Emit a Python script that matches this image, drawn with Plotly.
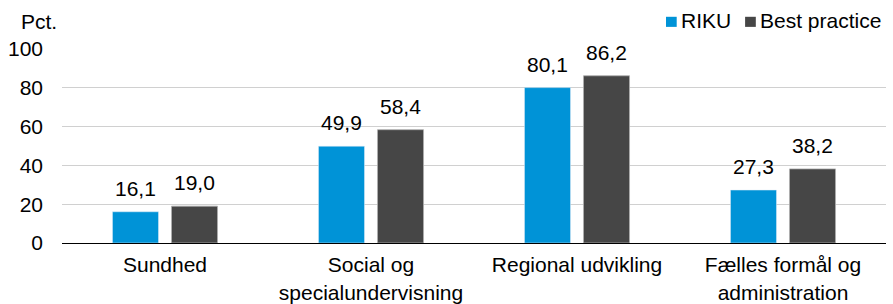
import plotly.graph_objects as go

categories = ["Sundhed", "Social og<br>specialundervisning", "Regional udvikling", "Fælles formål og<br>administration"]
riku = [16.1, 49.9, 80.1, 27.3]
best = [19.0, 58.4, 86.2, 38.2]
series_names = ["RIKU", "Best practice"]
y_ticks = [0, 20, 40, 60, 80, 100]

BLUE = "#0093D7"
GRAY = "#464646"
FONT = "Liberation Sans, Arial, sans-serif"
FS = 21

fig = go.Figure()
fig.add_trace(go.Bar(x=categories, y=riku, name=series_names[0], marker_color=BLUE, showlegend=False))
fig.add_trace(go.Bar(x=categories, y=best, name=series_names[1], marker_color=GRAY,
                     marker_line=dict(color="#B0B0B0", width=0.8), showlegend=False))

# data labels
slot = 29.5
for vals, shift in ((riku, -slot), (best, slot)):
    for c, v in zip(categories, vals):
        fig.add_annotation(x=c, y=v, xref="x", yref="y", text=f"{v:.1f}".replace(".", ","),
                           showarrow=False, yanchor="bottom", xanchor="center",
                           xshift=shift, yshift=10, font=dict(family=FONT, size=FS, color="#000"))

# custom legend
fig.add_shape(type="rect", xref="paper", yref="paper", x0=0.733, x1=0.746, y0=1.114, y1=1.166,
              fillcolor=BLUE, line_width=0)
fig.add_annotation(xref="paper", yref="paper", x=0.749, y=1.147, text=series_names[0], showarrow=False,
                   xanchor="left", yanchor="middle", font=dict(family=FONT, size=FS, color="#000"))
fig.add_shape(type="rect", xref="paper", yref="paper", x0=0.829, x1=0.842, y0=1.114, y1=1.166,
              fillcolor=GRAY, line_width=0)
fig.add_annotation(xref="paper", yref="paper", x=0.845, y=1.147, text=series_names[1], showarrow=False,
                   xanchor="left", yanchor="middle", font=dict(family=FONT, size=FS, color="#000"))

# axis title
fig.add_annotation(xref="paper", yref="paper", x=0, xshift=-43, y=1.14, text="Pct.", showarrow=False,
                   xanchor="left", yanchor="middle", font=dict(family=FONT, size=FS, color="#000"))

fig.update_layout(
    width=893, height=304,
    margin=dict(l=62, r=7, t=49, b=61),
    paper_bgcolor="white", plot_bgcolor="white",
    barmode="group", bargap=0.427, bargroupgap=0.22,
    font=dict(family=FONT, size=FS, color="#000"),
    showlegend=False,
)
fig.update_xaxes(showline=True, linecolor="#000", linewidth=1.3, ticks="", showgrid=False,
                 automargin=False,
                 tickfont=dict(family=FONT, size=FS, color="#000"), ticklabelstandoff=3)
fig.update_yaxes(range=[0, 100], tickvals=y_ticks, showgrid=True, gridcolor="#D0D0D0", gridwidth=1,
                 automargin=False,
                 zeroline=False, showline=False, ticks="", ticklabelstandoff=18,
                 tickfont=dict(family=FONT, size=FS, color="#000"))

fig.write_html("out.html", config={"displayModeBar": False},
               post_script="document.body.style.margin='0';document.body.style.overflow='hidden';")
